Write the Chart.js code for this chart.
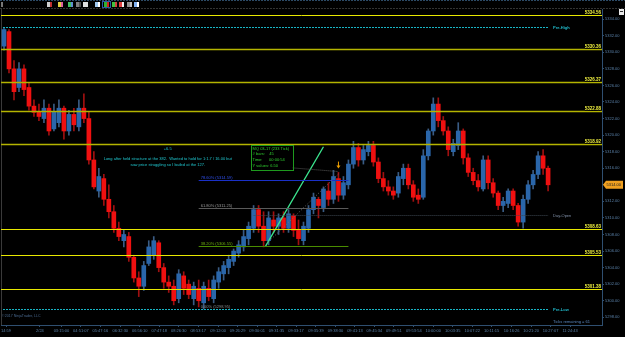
<!DOCTYPE html>
<html>
<head>
<meta charset="utf-8">
<script src="https://cdn.jsdelivr.net/npm/chart.js@4/dist/chart.umd.min.js"></script>
<style>
  html, body { margin: 0; padding: 0; background: #000; overflow: hidden; }
  #wrap { width: 625px; height: 337px; position: relative; }
</style>
</head>
<body>
<div id="wrap"><canvas id="chart"></canvas></div>
<script>
// candles, oldest first (233 tick bars, thinned)
const opens = [
  5330.75, 5332.50, 5328.00, 5325.75, 5328.00, 5325.75, 5323.50, 5322.75, 5322.00, 5323.25,
  5320.75, 5321.50, 5323.25, 5320.50, 5322.50, 5321.00, 5323.25, 5322.00, 5317.00, 5313.25,
  5314.75, 5312.25, 5310.75, 5308.75, 5307.25, 5307.75, 5305.25, 5302.75, 5301.75, 5304.50,
  5305.50, 5307.00, 5304.00, 5302.25, 5301.75, 5300.25, 5303.00, 5302.00, 5300.25, 5301.50,
  5299.75, 5301.50, 5300.25, 5302.25, 5303.25, 5304.00, 5304.75, 5305.75, 5306.50, 5307.50,
  5308.75, 5311.00, 5309.00, 5307.25, 5309.75, 5309.00, 5310.00, 5308.75, 5310.25, 5308.50,
  5307.25, 5308.75, 5311.00, 5312.25, 5311.25, 5313.25, 5312.25, 5314.75, 5312.75, 5314.00,
  5316.50, 5318.50, 5317.00, 5318.00, 5318.75, 5316.75, 5314.75, 5313.75, 5313.25, 5313.00,
  5314.75, 5316.00, 5314.00, 5312.75, 5312.50, 5317.50, 5320.50, 5323.75, 5321.75, 5320.50,
  5318.00, 5318.75, 5320.50, 5317.25, 5315.50, 5314.50, 5313.50, 5317.00, 5314.25, 5313.00,
  5311.50, 5311.75, 5313.25, 5311.50, 5309.50, 5312.25, 5314.00, 5315.25, 5317.50, 5316.00
];
const highs = [
  5333.00, 5332.75, 5329.00, 5328.75, 5328.50, 5326.25, 5324.25, 5323.75, 5324.25, 5323.75,
  5323.75, 5324.25, 5323.50, 5323.00, 5323.25, 5324.25, 5325.00, 5322.75, 5318.00, 5316.00,
  5315.25, 5314.00, 5311.50, 5309.50, 5308.50, 5308.25, 5305.50, 5303.50, 5304.75, 5307.25,
  5307.75, 5307.25, 5304.50, 5303.00, 5302.50, 5303.75, 5303.50, 5302.50, 5302.25, 5302.50,
  5302.25, 5302.50, 5303.00, 5304.00, 5304.75, 5305.50, 5306.25, 5307.25, 5308.50, 5309.50,
  5311.50, 5311.50, 5310.75, 5310.75, 5310.75, 5310.50, 5310.75, 5311.00, 5310.50, 5309.75,
  5309.50, 5311.50, 5313.00, 5312.50, 5313.75, 5314.25, 5315.75, 5315.50, 5315.00, 5317.00,
  5319.25, 5319.00, 5318.75, 5319.25, 5319.25, 5317.25, 5315.50, 5314.50, 5313.75, 5315.50,
  5316.50, 5316.50, 5314.50, 5313.50, 5318.25, 5320.75, 5324.50, 5324.50, 5322.25, 5321.00,
  5319.50, 5321.50, 5320.75, 5317.75, 5316.00, 5315.25, 5317.50, 5317.50, 5314.75, 5313.25,
  5312.50, 5313.50, 5313.50, 5311.75, 5312.75, 5314.50, 5315.75, 5318.00, 5318.25, 5316.25
];
const lows = [
  5330.25, 5327.50, 5324.25, 5325.25, 5324.75, 5323.00, 5322.25, 5321.75, 5321.50, 5320.00,
  5320.50, 5321.00, 5319.50, 5320.00, 5320.50, 5320.50, 5321.50, 5316.50, 5313.50, 5312.50,
  5311.50, 5310.00, 5308.25, 5307.25, 5306.50, 5304.75, 5302.25, 5300.50, 5301.25, 5304.25,
  5305.00, 5303.50, 5301.50, 5301.00, 5299.50, 5299.75, 5300.75, 5300.25, 5299.50, 5299.25,
  5299.00, 5300.00, 5299.75, 5301.50, 5302.50, 5303.25, 5304.25, 5305.25, 5306.00, 5306.75,
  5308.25, 5308.25, 5306.50, 5306.75, 5308.25, 5308.00, 5308.25, 5308.25, 5307.75, 5306.75,
  5306.75, 5308.25, 5310.50, 5310.00, 5310.75, 5311.50, 5311.75, 5312.00, 5312.25, 5313.50,
  5316.00, 5316.25, 5316.50, 5317.50, 5316.25, 5314.25, 5313.25, 5312.75, 5312.25, 5312.50,
  5314.00, 5313.50, 5312.00, 5311.75, 5312.25, 5317.00, 5320.00, 5321.00, 5320.00, 5317.50,
  5317.50, 5318.25, 5316.50, 5315.00, 5314.00, 5313.25, 5313.25, 5313.50, 5312.50, 5311.00,
  5310.75, 5311.25, 5311.00, 5309.00, 5308.75, 5311.75, 5313.50, 5314.75, 5315.25, 5313.25
];
const closes = [
  5332.75, 5328.00, 5325.25, 5328.00, 5325.50, 5323.50, 5322.75, 5322.25, 5323.25, 5320.50,
  5322.75, 5323.25, 5320.50, 5322.50, 5321.25, 5323.25, 5322.00, 5317.00, 5313.75, 5315.00,
  5312.25, 5310.75, 5308.75, 5307.75, 5308.00, 5305.25, 5302.75, 5301.75, 5304.25, 5306.50,
  5307.25, 5304.00, 5302.25, 5301.75, 5300.00, 5303.25, 5301.50, 5300.75, 5301.75, 5300.00,
  5301.75, 5300.50, 5302.50, 5303.50, 5304.25, 5305.00, 5306.00, 5306.75, 5307.75, 5309.00,
  5311.00, 5309.00, 5307.25, 5310.00, 5309.00, 5310.00, 5308.75, 5310.50, 5308.50, 5307.50,
  5309.00, 5311.00, 5312.50, 5311.50, 5313.50, 5312.25, 5315.00, 5312.75, 5314.25, 5316.50,
  5318.50, 5317.00, 5318.25, 5318.75, 5316.75, 5314.75, 5313.75, 5313.25, 5312.75, 5315.00,
  5316.00, 5314.00, 5312.50, 5312.25, 5317.50, 5320.50, 5323.75, 5321.75, 5320.50, 5318.25,
  5319.00, 5320.50, 5317.25, 5315.50, 5314.50, 5313.75, 5317.00, 5314.25, 5313.00, 5311.50,
  5312.00, 5313.25, 5311.50, 5309.50, 5312.25, 5314.00, 5315.25, 5317.50, 5316.00, 5314.00
];

// time axis labels and the bar they sit under
const timeLabels = ['14:59', '2/24', '03:15:00', '04:51:07', '05:47:16', '06:32:30', '06:56:10',
  '07:47:18', '08:26:30', '08:53:17', '09:12:00', '09:26:29', '09:30:01', '09:31:35', '09:33:17',
  '09:35:39', '09:38:30', '09:41:13', '09:45:34', '09:49:51', '09:53:54', '10:00:00', '10:03:35',
  '10:07:22', '10:11:15', '10:16:26', '10:21:20', '10:27:07', '11:24:43'];
const timeTickBars = [0.4, 7.2, 11.5, 15.4, 19.3, 23.3, 27.2, 31.1, 35.0, 38.9, 42.9, 46.8, 50.7,
  54.6, 58.5, 62.5, 66.4, 70.3, 74.2, 78.1, 82.1, 86.0, 89.9, 93.8, 97.7, 101.7, 105.6, 109.5, 113.4];
const priceTicks = [5298, 5300, 5302, 5304, 5306, 5308, 5310, 5312, 5314, 5316, 5318,
  5320, 5322, 5324, 5326, 5328, 5330, 5332, 5334];

// drawn levels
const levelPrices = [5334.56, 5330.36, 5326.37, 5322.88, 5318.92, 5308.63, 5305.53, 5301.38];
const preHigh = 5333.06;
const preLow = 5299.00;
const dayOpen = 5310.37;
const fibPct = ['0.00%', '38.20%', '61.80%', '78.60%'];
const fibPrices = [5298.95, 5306.55, 5311.25, 5314.59];
const fibFromBar = 39, fibToBar = 69;
const trendLine = [{ x: 52.4, y: 5306.6 }, { x: 64, y: 5318.6 }];
const measureBox = ['MQ 03-17 (233 Tick)', '# bars:    45', 'Time:      00:00:54', 'Y values: 6.50'];
const note = ['+6.5',
  'Long after held structure at the 382.  Wanted to hold for 1:1.7 / 16.00 but',
  'saw price struggling so I bailed at the 127.'];

const bodyData = opens.map((o, i) => ({ x: i, y: [o, closes[i]] }));
const wickData = lows.map((l, i) => ({ x: i, y: [l, highs[i]] }));
const isUp = opens.map((o, i) => closes[i] >= o);

function seg(ctx, x1, y1, x2, y2) {
  ctx.beginPath();
  ctx.moveTo(x1, y1);
  ctx.lineTo(x2, y2);
  ctx.stroke();
}

const overlay = {
  id: 'overlay',
  beforeDraw(chart) {
    const ctx = chart.ctx;
    ctx.save();
    ctx.fillStyle = '#000';
    ctx.fillRect(0, 0, chart.width, chart.height);
    // toolbar strip
    ctx.strokeStyle = '#2c4a66';
    ctx.setLineDash([2, 1]);
    seg(ctx, 0, 0.5, chart.width, 0.5);
    ctx.strokeStyle = '#333';
    seg(ctx, 0, 8.5, chart.width, 8.5);
    ctx.setLineDash([]);
    ctx.fillStyle = '#777';
    ctx.fillRect(1, 2, 2, 5);
    const icons = [[47, '#d0d0d0', '#c03030'], [58, '#e0d040', '#e060a0'], [68, '#40c060', '#6090d0'],
      [76, '#808080', '#505050'], [83, '#e0e0e0', '#e0e0e0'], [95, '#a0c8f0', '#ffffff'],
      [104, '#30b030', '#d02020'], [112, '#40c040', '#d04040'], [119, '#e04040', '#f0f0f0'],
      [127, '#909090', '#c0c0c0'], [134, '#80b0f0', '#ffffff']];
    icons.forEach(([x, a, b]) => {
      ctx.fillStyle = a; ctx.fillRect(x, 2, 3, 5);
      ctx.fillStyle = b; ctx.fillRect(x + 3, 2, 2, 5);
    });
    ctx.strokeStyle = '#2a5aa0';
    ctx.strokeRect(102.5, 1.5, 8, 6);
    // left border
    ctx.fillStyle = '#3a3a3a';
    ctx.fillRect(1, 9, 1, chart.chartArea.bottom - 9);
    // corner box
    ctx.fillStyle = '#e8e8e8';
    ctx.fillRect(619, 9, 5, 6);
    ctx.fillStyle = '#333';
    ctx.fillRect(620, 11, 3, 1);
    ctx.restore();
  },
  afterDatasetsDraw(chart) {
    const ctx = chart.ctx;
    const xs = chart.scales.x, ys = chart.scales.y;
    const { left, right, bottom } = chart.chartArea;
    const lastX = xs.getPixelForValue(closes.length - 1);
    ctx.save();
    ctx.textBaseline = 'bottom';

    // key levels
    levelPrices.forEach(p => {
      const y = Math.round(ys.getPixelForValue(p)) + 0.5;
      const mid = p > 5310 && p < 5332;
      ctx.strokeStyle = mid ? '#b4b400' : '#e8e800';
      ctx.lineWidth = mid ? 1.4 : 1;
      seg(ctx, left, y, right, y);
      ctx.font = 'bold 4.5px "Liberation Sans"';
      ctx.textAlign = 'right';
      ctx.lineWidth = 1.5;
      ctx.strokeStyle = '#000';
      ctx.strokeText(p.toFixed(2), right - 1, y - 0.5);
      ctx.fillStyle = '#f0f040';
      ctx.fillText(p.toFixed(2), right - 1, y - 0.5);
    });

    // prior session high / low, day open
    ctx.lineWidth = 1;
    ctx.textAlign = 'left';
    ctx.textBaseline = 'middle';
    ctx.font = 'bold 4px "Liberation Sans"';
    [[preHigh, 'Pre-High'], [preLow, 'Pre-Low']].forEach(([p, t]) => {
      const y = Math.round(ys.getPixelForValue(p)) + 0.5;
      ctx.strokeStyle = '#18b4c4';
      ctx.setLineDash([2, 1]);
      seg(ctx, left + 2, y, lastX, y);
      ctx.setLineDash([]);
      ctx.fillStyle = '#20b8c8';
      ctx.fillText(t, lastX + 5, y);
    });
    const yo = Math.round(ys.getPixelForValue(dayOpen)) + 0.5;
    ctx.strokeStyle = '#3c4650';
    ctx.setLineDash([1, 1]);
    seg(ctx, xs.getPixelForValue(50), yo, lastX, yo);
    ctx.setLineDash([]);
    ctx.fillStyle = '#8090a8';
    ctx.font = '4px "Liberation Sans"';
    ctx.fillText('Day-Open', lastX + 5, yo);

    // fibonacci retracement
    const fx1 = xs.getPixelForValue(fibFromBar), fx2 = xs.getPixelForValue(fibToBar);
    const fibLine = ['', '#4a8c00', '#5a5a5a', '#1a30c8'];
    const fibText = ['#8a8a8a', '#70b010', '#9a9a9a', '#3050f0'];
    ctx.textBaseline = 'bottom';
    ctx.font = '4px "Liberation Sans"';
    fibPrices.forEach((p, k) => {
      const y = Math.round(ys.getPixelForValue(p)) + 0.5;
      if (fibLine[k]) {
        ctx.strokeStyle = fibLine[k];
        seg(ctx, fx1, y, fx2, y);
      }
      ctx.fillStyle = fibText[k];
      ctx.fillText(fibPct[k] + ' (' + p.toFixed(2) + ')', fx1 + 2, y - 1);
    });
    ctx.strokeStyle = '#707070';
    ctx.setLineDash([1, 2]);
    seg(ctx, xs.getPixelForValue(52.6), ys.getPixelForValue(5306.9),
      xs.getPixelForValue(67), ys.getPixelForValue(5315.3));
    ctx.setLineDash([]);

    // measure box
    const bx = xs.getPixelForValue(49.4), by = ys.getPixelForValue(5318.8);
    const bxr = xs.getPixelForValue(57.8), byb = ys.getPixelForValue(5315.8);
    ctx.strokeStyle = '#5a5a5a';
    ctx.setLineDash([1, 1]);
    seg(ctx, bxr, byb - 2, xs.getPixelForValue(67), ys.getPixelForValue(5315.6));
    ctx.setLineDash([]);
    ctx.fillStyle = '#000';
    ctx.fillRect(bx, by, bxr - bx, byb - by);
    ctx.strokeStyle = '#1e9a1e';
    ctx.strokeRect(Math.round(bx) + 0.5, Math.round(by) + 0.5, Math.round(bxr - bx), Math.round(byb - by));
    ctx.fillStyle = '#30d030';
    ctx.textAlign = 'left';
    ctx.textBaseline = 'top';
    ctx.font = '4px "Liberation Sans"';
    measureBox.forEach((t, k) => ctx.fillText(t, bx + 2, by + 1.5 + k * 5.8));

    // arrow over the exit bar
    const ax = xs.getPixelForValue(67), ay = ys.getPixelForValue(5316.2);
    ctx.strokeStyle = '#f0a000';
    ctx.fillStyle = '#f0a000';
    ctx.lineWidth = 1;
    seg(ctx, ax, ay - 5, ax, ay);
    ctx.beginPath();
    ctx.moveTo(ax - 2, ay - 1);
    ctx.lineTo(ax + 2, ay - 1);
    ctx.lineTo(ax, ay + 2);
    ctx.closePath();
    ctx.fill();

    // trade note
    ctx.fillStyle = '#20c8d0';
    ctx.textAlign = 'center';
    ctx.textBaseline = 'middle';
    ctx.font = '4px "Liberation Sans"';
    const nx = xs.getPixelForValue(32.8);
    const ny = ys.getPixelForValue(5318.35);
    ctx.fillText(note[0], nx, ny);
    ctx.fillText(note[1], nx, ny + 10);
    ctx.fillText(note[2], nx, ny + 16);

    // footer texts
    ctx.textAlign = 'left';
    ctx.fillStyle = '#4a6a90';
    ctx.font = '3.6px "Liberation Sans"';
    ctx.fillText('\u00a92017 NinjaTrader, LLC', left + 1, bottom - 9);
    ctx.fillStyle = '#5a88c0';
    ctx.font = '4px "Liberation Sans"';
    ctx.fillText('Ticks remaining = 61', lastX + 5, bottom - 3);

    // last price marker
    const lp = closes[closes.length - 1];
    const ly = ys.getPixelForValue(lp);
    ctx.fillStyle = '#f0a020';
    ctx.beginPath();
    ctx.moveTo(right + 1, ly);
    ctx.lineTo(right + 4, ly - 4);
    ctx.lineTo(right + 21, ly - 4);
    ctx.lineTo(right + 21, ly + 4);
    ctx.lineTo(right + 4, ly + 4);
    ctx.closePath();
    ctx.fill();
    ctx.fillStyle = '#202020';
    ctx.textAlign = 'left';
    ctx.font = '4px "Liberation Sans"';
    ctx.fillText(lp.toFixed(2), right + 4.5, ly + 0.5);
    ctx.restore();
  }
};

new Chart(document.getElementById('chart'), {
  type: 'bar',
  data: {
    datasets: [
      {
        type: 'line',
        data: trendLine,
        borderColor: '#3ce890',
        borderWidth: 1.3,
        pointRadius: 0,
        order: 0
      },
      {
        data: bodyData,
        backgroundColor: isUp.map(u => u ? '#2a66aa' : '#f01010'),
        barThickness: 4,
        grouped: false,
        order: 1
      },
      {
        data: wickData,
        backgroundColor: isUp.map(u => u ? '#3a5c84' : '#a01010'),
        barThickness: 1,
        grouped: false,
        order: 2
      }
    ]
  },
  options: {
    responsive: true,
    maintainAspectRatio: false,
    animation: false,
    events: [],
    layout: { padding: { top: 9, left: 0, right: 0, bottom: 0 } },
    plugins: { legend: { display: false }, tooltip: { enabled: false } },
    scales: {
      x: {
        type: 'linear',
        min: -0.6,
        max: 119.8,
        offset: false,
        grid: { offset: false, drawOnChartArea: false, tickLength: 2, color: '#2f4f70' },
        border: { color: '#2f4f70' },
        afterBuildTicks: s => { s.ticks = timeTickBars.map(v => ({ value: v })); },
        afterFit: s => { s.height = 12; },
        ticks: {
          autoSkip: false,
          maxRotation: 0,
          padding: 1,
          color: '#5a80a8',
          font: { size: 4, family: 'Liberation Sans' },
          callback: (v, i) => timeLabels[i]
        }
      },
      y: {
        position: 'right',
        min: 5297.07,
        max: 5335.23,
        grid: { drawOnChartArea: false, tickLength: 2, color: '#2f4f70' },
        border: { color: '#2f4f70' },
        afterBuildTicks: s => { s.ticks = priceTicks.map(v => ({ value: v })); },
        afterFit: s => { s.width = 23; },
        ticks: {
          padding: 1,
          color: '#5a80a8',
          font: { size: 4, family: 'Liberation Sans' },
          callback: v => v.toFixed(2)
        }
      }
    }
  },
  plugins: [overlay]
});
</script>
</body>
</html>
